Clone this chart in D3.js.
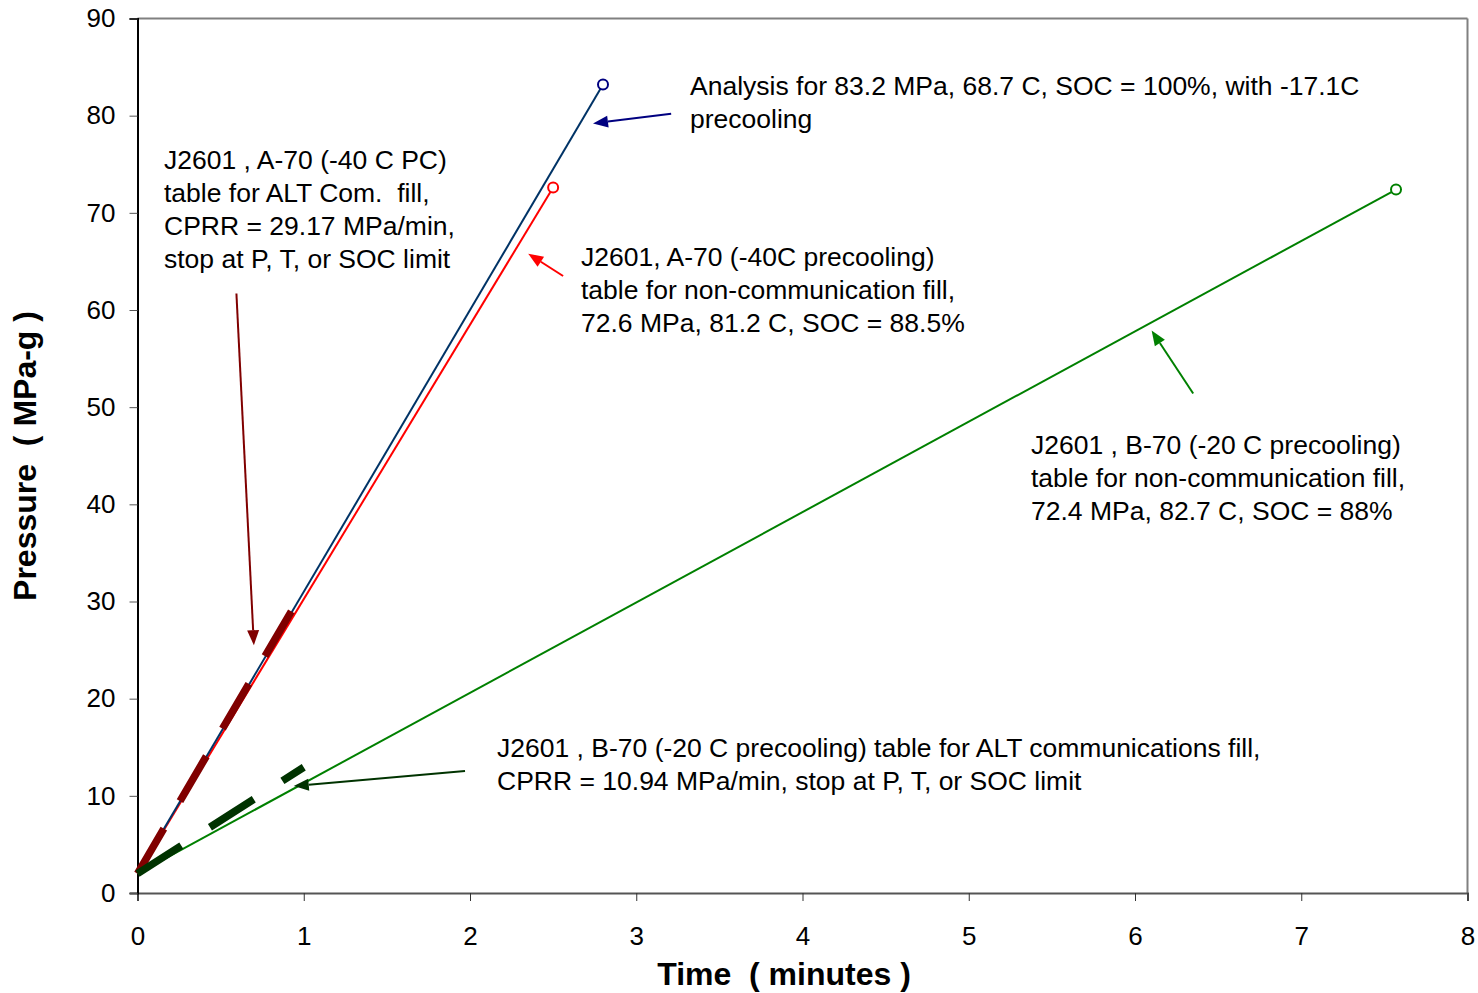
<!DOCTYPE html>
<html>
<head>
<meta charset="utf-8">
<script src="https://cdn.jsdelivr.net/npm/d3@7"></script>
<style>
  body { margin: 0; background: #fff; }
  svg { display: block; font-family: "Liberation Sans", Arial, sans-serif; }
</style>
</head>
<body>
<svg id="chart"></svg>
<script>
// axis ticks
var xTicks = [0, 1, 2, 3, 4, 5, 6, 7, 8];
var yTicks = [0, 10, 20, 30, 40, 50, 60, 70, 80, 90];

// fill curves: [time (min), pressure (MPa)]
var analysisFill = [[0, 2], [2.8, 83.2]];
var a70NonComm = [[0, 2], [2.5, 72.6]];
var b70NonComm = [[0, 2], [7.57, 72.4]];
// ALT communication fills, constant pressure ramp rate
var a70AltCom = [[0, 2], [1, 31.17]];
var b70AltCom = [[0, 2], [1, 12.94]];

// arrows: [tail, head] in data units
var arrowNavy = [[3.21, 80.2], [2.74, 79.2]];
var arrowRed = [[2.56, 63.5], [2.35, 65.8]];
var arrowDarkRed = [[0.595, 61.7], [0.70, 25.5]];
var arrowGreen = [[6.35, 51.4], [6.10, 57.9]];
var arrowDarkGreen = [[1.97, 12.55], [0.94, 11.0]];

var labelNavy = ["Analysis for 83.2 MPa, 68.7 C, SOC = 100%, with -17.1C", "precooling"];
var labelRed = ["J2601, A-70 (-40C precooling)", "table for non-communication fill,", "72.6 MPa, 81.2 C, SOC = 88.5%"];
var labelDarkRed = ["J2601 , A-70 (-40 C PC)", "table for ALT Com.  fill,", "CPRR = 29.17 MPa/min,", "stop at P, T, or SOC limit"];
var labelGreen = ["J2601 , B-70 (-20 C precooling)", "table for non-communication fill,", "72.4 MPa, 82.7 C, SOC = 88%"];
var labelDarkGreen = ["J2601 , B-70 (-20 C precooling) table for ALT communications fill,", "CPRR = 10.94 MPa/min, stop at P, T, or SOC limit"];

var W = 1478, H = 993;
var mLeft = 137.5, mRight = 1467.5, mTop = 18.5, mBottom = 893;

var svg = d3.select("#chart").attr("width", W).attr("height", H);

var x = d3.scaleLinear().domain([0, 8]).range([mLeft, mRight]);
var y = d3.scaleLinear().domain([0, 90]).range([mBottom, mTop]);

// frame: top and right in grey
svg.append("line").attr("x1", mLeft).attr("x2", mRight).attr("y1", mTop).attr("y2", mTop)
    .attr("stroke", "#808080").attr("stroke-width", 2);
svg.append("line").attr("x1", mRight).attr("x2", mRight).attr("y1", mTop).attr("y2", mBottom)
    .attr("stroke", "#808080").attr("stroke-width", 2);

var xAxis = svg.append("g").attr("transform", "translate(0," + mBottom + ")")
    .call(d3.axisBottom(x).tickValues(xTicks).tickSize(8).tickPadding(26).tickFormat(d3.format("d")));
xAxis.select(".domain").attr("stroke", "#555").attr("stroke-width", 2);
xAxis.selectAll(".tick line").attr("stroke", "#333");
xAxis.selectAll("text").attr("font-size", 26).attr("fill", "#000");

var yAxis = svg.append("g").attr("transform", "translate(" + mLeft + ",0)")
    .call(d3.axisLeft(y).tickValues(yTicks).tickSize(8).tickPadding(14).tickFormat(d3.format("d")));
yAxis.select(".domain").attr("stroke", "#000").attr("stroke-width", 2);
yAxis.selectAll(".tick line").attr("stroke", "#555");
yAxis.selectAll("text").attr("font-size", 26).attr("fill", "#000");

svg.append("text").attr("x", 784).attr("y", 985)
    .attr("text-anchor", "middle").attr("font-size", 32).attr("font-weight", "bold")
    .attr("xml:space", "preserve").text("Time  ( minutes )");
svg.append("text").attr("transform", "translate(36," + 456 + ") rotate(-90)")
    .attr("text-anchor", "middle").attr("font-size", 32).attr("font-weight", "bold")
    .attr("xml:space", "preserve").text("Pressure  ( MPa-g )");

var line = d3.line().x(d => x(d[0])).y(d => y(d[1]));

function drawLine(data, color, width, dash) {
    var p = svg.append("path").datum(data).attr("d", line)
        .attr("fill", "none").attr("stroke", color).attr("stroke-width", width);
    if (dash) p.attr("stroke-dasharray", dash).attr("stroke-linecap", "butt");
}

drawLine(b70NonComm, "#008000", 2);
drawLine(a70NonComm, "#ff0000", 2);
drawLine(analysisFill, "#003366", 2);
drawLine(a70AltCom, "#800000", 7.5, "52,32");
drawLine(b70AltCom, "#003300", 7.5, "52,34");

function endMarker(data, color) {
    var d = data[data.length - 1];
    svg.append("circle").attr("cx", x(d[0])).attr("cy", y(d[1])).attr("r", 5)
        .attr("fill", "#fff").attr("stroke", color).attr("stroke-width", 2);
}
endMarker(analysisFill, "#000080");
endMarker(a70NonComm, "#ff0000");
endMarker(b70NonComm, "#008000");

function arrow(a, color) {
    var x1 = x(a[0][0]), y1 = y(a[0][1]), x2 = x(a[1][0]), y2 = y(a[1][1]);
    var ang = Math.atan2(y2 - y1, x2 - x1);
    var len = 15, half = 6;
    var bx = x2 - len * Math.cos(ang), by = y2 - len * Math.sin(ang);
    svg.append("line").attr("x1", x1).attr("y1", y1).attr("x2", bx).attr("y2", by)
        .attr("stroke", color).attr("stroke-width", 2);
    var pts = [[x2, y2],
        [bx + half * Math.sin(ang), by - half * Math.cos(ang)],
        [bx - half * Math.sin(ang), by + half * Math.cos(ang)]];
    svg.append("polygon").attr("points", pts.map(p => p.join(",")).join(" ")).attr("fill", color);
}
arrow(arrowNavy, "#000080");
arrow(arrowRed, "#ff0000");
arrow(arrowDarkRed, "#800000");
arrow(arrowGreen, "#008000");
arrow(arrowDarkGreen, "#003300");

function label(lines, lx, ly) {
    var t = svg.append("text").attr("font-size", 26.5).attr("fill", "#000").attr("xml:space", "preserve");
    t.selectAll("tspan").data(lines).join("tspan")
        .attr("x", lx).attr("y", (d, i) => ly + i * 33).text(d => d);
}
label(labelNavy, 690, 95);
label(labelRed, 581, 266);
label(labelDarkRed, 164, 169);
label(labelGreen, 1031, 454);
label(labelDarkGreen, 497, 757);
</script>
</body>
</html>
